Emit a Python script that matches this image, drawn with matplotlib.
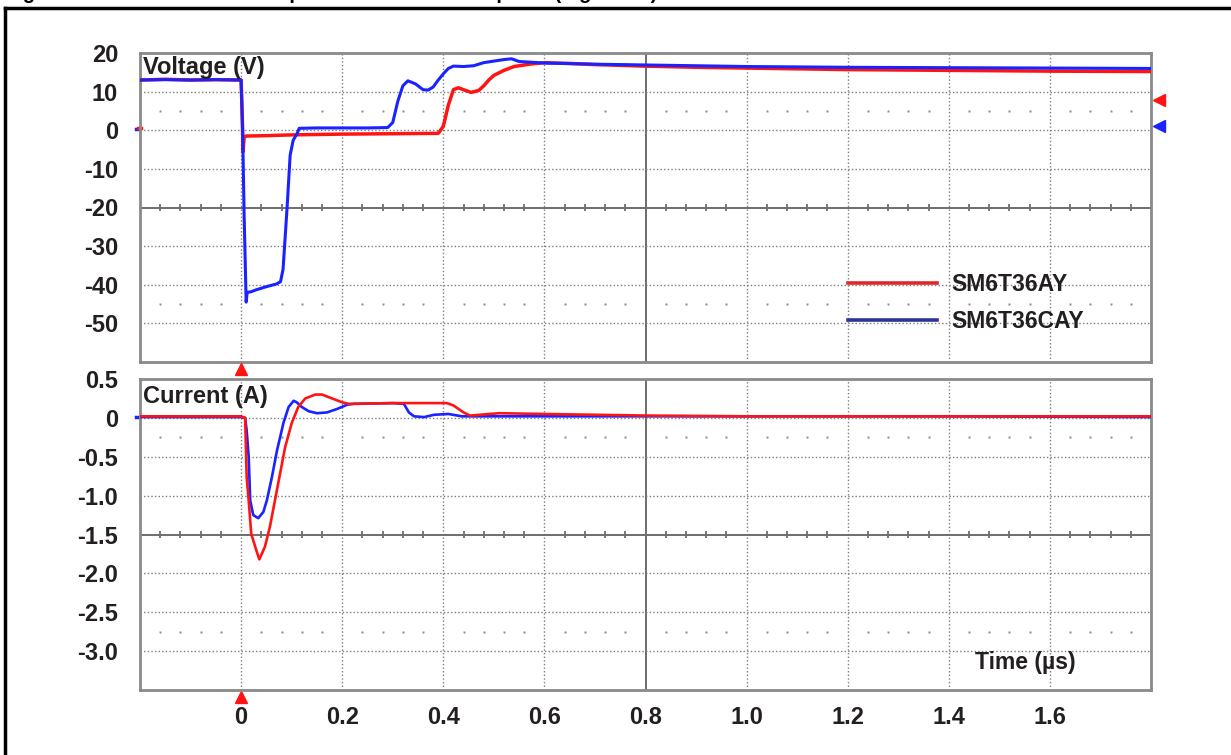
import matplotlib
matplotlib.use("Agg")
import matplotlib.pyplot as plt
from matplotlib.lines import Line2D
import numpy as np

plt.rcParams['font.family'] = ['Liberation Sans', 'DejaVu Sans']
plt.rcParams['font.weight'] = 'bold'

# ---------------- data ----------------
series_names = ["SM6T36AY", "SM6T36CAY"]

v_red_t = [-0.2, -0.15, -0.1, -0.05, 0.0, 0.002, 0.004, 0.006, 0.01, 0.05, 0.1, 0.2, 0.3, 0.39,
           0.40, 0.41, 0.42, 0.43, 0.44, 0.455, 0.47, 0.48, 0.49, 0.50, 0.52, 0.54, 0.57, 0.6,
           0.65, 0.7, 0.8, 0.9, 1.0, 1.2, 1.4, 1.6, 1.8]
v_red = [13.0, 13.2, 13.0, 13.1, 13.0, 5.0, -5.5, -1.8, -1.5, -1.4, -1.2, -1.0, -0.9, -0.8,
         1.0, 6.5, 10.5, 11.0, 10.5, 9.8, 10.3, 11.5, 13.0, 14.2, 15.5, 16.5, 17.1, 17.5,
         17.3, 17.0, 16.6, 16.3, 16.1, 15.7, 15.5, 15.3, 15.2]

v_blue_t = [-0.2, -0.15, -0.1, -0.05, 0.0, 0.003, 0.006, 0.01, 0.012, 0.02, 0.03, 0.05, 0.07,
            0.078, 0.083, 0.087, 0.091, 0.097, 0.103, 0.111, 0.115, 0.15, 0.2, 0.25, 0.29,
            0.30, 0.31, 0.32, 0.33, 0.345, 0.36, 0.37, 0.38, 0.39, 0.40, 0.41, 0.42, 0.44,
            0.46, 0.48, 0.50, 0.52, 0.535, 0.55, 0.6, 0.7, 0.8, 1.0, 1.2, 1.4, 1.6, 1.8]
v_blue = [13.0, 13.1, 13.0, 13.1, 13.0, 0.0, -22.0, -44.5, -42.0, -41.8, -41.3, -40.5, -39.8,
          -39.2, -36.0, -28.0, -20.0, -6.5, -2.6, -0.8, 0.5, 0.6, 0.6, 0.6, 0.7,
          2.0, 7.5, 11.5, 12.8, 12.0, 10.5, 10.4, 11.2, 13.0, 14.6, 16.0, 16.6, 16.5,
          16.7, 17.5, 17.9, 18.3, 18.5, 17.8, 17.4, 17.1, 16.9, 16.5, 16.3, 16.2, 16.1, 16.0]

i_red_t = [-0.2, -0.1, 0.0, 0.008, 0.011, 0.015, 0.02, 0.03, 0.036, 0.047, 0.057, 0.067, 0.077,
           0.087, 0.1, 0.113, 0.127, 0.147, 0.16, 0.18, 0.2, 0.213, 0.3, 0.407, 0.42, 0.44,
           0.453, 0.51, 0.6, 0.8, 1.0, 1.4, 1.8]
i_red = [0.02, 0.02, 0.02, 0.0, -0.76, -1.06, -1.49, -1.7, -1.82, -1.66, -1.4, -1.06, -0.72,
         -0.38, -0.07, 0.14, 0.25, 0.3, 0.3, 0.25, 0.2, 0.18, 0.19, 0.19, 0.16, 0.07,
         0.03, 0.06, 0.05, 0.03, 0.02, 0.02, 0.02]

i_blue_t = [-0.2, -0.1, 0.0, 0.008, 0.011, 0.015, 0.018, 0.024, 0.034, 0.044, 0.051, 0.061,
            0.071, 0.084, 0.094, 0.104, 0.11, 0.12, 0.134, 0.15, 0.17, 0.19, 0.21, 0.222,
            0.3, 0.322, 0.332, 0.342, 0.362, 0.382, 0.41, 0.437, 0.6, 1.0, 1.4, 1.8]
i_blue = [0.01, 0.01, 0.01, 0.0, -0.16, -0.5, -1.06, -1.25, -1.29, -1.21, -1.06, -0.76,
          -0.42, -0.06, 0.14, 0.22, 0.2, 0.14, 0.085, 0.06, 0.07, 0.115, 0.17, 0.18,
          0.19, 0.18, 0.07, 0.02, 0.01, 0.04, 0.05, 0.02, 0.02, 0.02, 0.02, 0.01]

x_ticks = [0, 0.2, 0.4, 0.6, 0.8, 1.0, 1.2, 1.4, 1.6]
x_tick_labels = ["0", "0.2", "0.4", "0.6", "0.8", "1.0", "1.2", "1.4", "1.6"]
v_ticks = [20, 10, 0, -10, -20, -30, -40, -50]
v_tick_labels = ["20", "10", "0", "-10", "-20", "-30", "-40", "-50"]
i_ticks = [0.5, 0, -0.5, -1.0, -1.5, -2.0, -2.5, -3.0]
i_tick_labels = ["0.5", "0", "-0.5", "-1.0", "-1.5", "-2.0", "-2.5", "-3.0"]

RED = "#ff1414"
BLUE = "#1a22ff"
GRID = "#7d7d7d"
TXT = "#231f20"

W, H = 1231, 755
fig = plt.figure(figsize=(W / 100, H / 100), dpi=100)

axL = 140 / W
axW = 1011 / W
ax_v = fig.add_axes([axL, 1 - 362 / H, axW, 309 / H])
ax_i = fig.add_axes([axL, 1 - 690 / H, axW, 311 / H])

xmin, xmax = -0.2, 1.8
grid_x = np.round(np.arange(-0.2, 1.81, 0.2), 3)
minor_x = np.round(np.arange(-0.2, 1.8001, 0.04), 3)
minor_x = [m for m in minor_x if abs(m / 0.2 - round(m / 0.2)) > 1e-6]


def graticule(ax, ymin, ymax, step, center_y, dot_rows, tick_half):
    ax.set_xlim(xmin, xmax)
    ax.set_ylim(ymin, ymax)
    for gx in grid_x:
        if abs(gx - 0.8) < 1e-6:
            ax.axvline(gx, color="#6e6e6e", lw=1.4, zorder=1)
        elif xmin < gx < xmax:
            ax.axvline(gx, color=GRID, lw=1.0, ls=(0, (1, 1.6)), zorder=1)
    for gy in np.arange(ymin + step, ymax - step / 2, step):
        if abs(gy - center_y) < 1e-6:
            ax.axhline(gy, color="#6e6e6e", lw=1.4, zorder=1)
        else:
            ax.axhline(gy, color=GRID, lw=1.0, ls=(0, (1, 1.6)), zorder=1)
    ax.vlines(minor_x, center_y - tick_half, center_y + tick_half, color="#6e6e6e", lw=1.3, zorder=1)
    for r in dot_rows:
        ax.plot(minor_x, [r] * len(minor_x), ls="none", marker="s", ms=1.6,
                color="#8c8c8c", mec="none", zorder=1)
    for s in ax.spines.values():
        s.set_color("#8a8a8a")
        s.set_linewidth(2)
    ax.tick_params(length=0, labelsize=17, labelcolor=TXT)


graticule(ax_v, -60, 20, 10, -20, [5, -45], 1.0)
graticule(ax_i, -3.5, 0.5, 0.5, -1.5, [-0.25, -2.75], 0.05)

ax_v.set_xticks(x_ticks)
ax_v.set_xticklabels([])
ax_v.set_yticks(v_ticks)
ax_v.set_yticklabels(v_tick_labels, fontweight="bold")
ax_v.tick_params(axis="y", pad=15.8)

ax_i.set_xticks(x_ticks)
ax_i.set_xticklabels(x_tick_labels, fontweight="bold")
ax_i.set_yticks(i_ticks)
ax_i.set_yticklabels(i_tick_labels, fontweight="bold")
ax_i.tick_params(axis="y", pad=15.8)
ax_i.tick_params(axis="x", pad=11.5)

# traces
ax_v.plot(v_red_t, v_red, color=RED, lw=2.5, zorder=3)
ax_v.plot(v_blue_t, v_blue, color=BLUE, lw=2.2, zorder=4)
ax_i.plot(i_blue_t, i_blue, color=BLUE, lw=1.9, zorder=3)
ax_i.plot(i_red_t, i_red, color=RED, lw=1.9, zorder=4)

# channel / trigger markers
ax_v.plot([1.815], [7.9], marker="<", color=RED, ms=9, clip_on=False, ls="none")
ax_v.plot([1.815], [1.0], marker="<", color=BLUE, ms=9, clip_on=False, ls="none")
ax_i.plot([0], [0.63], marker="^", color=RED, ms=9, clip_on=False, ls="none")
ax_i.plot([0], [-3.59], marker="^", color=RED, ms=9, clip_on=False, ls="none")
ax_v.plot([-0.208, -0.203], [0.2, 0.2], color=BLUE, lw=2.5, clip_on=False)
ax_v.plot([-0.203, -0.199], [0.5, 0.5], color=RED, lw=2.5, clip_on=False)
ax_i.plot([-0.207, -0.203], [0.01, 0.01], color=BLUE, lw=2.5, clip_on=False)

# labels inside axes
ax_v.text(0.003, 0.952, "Voltage (V)", transform=ax_v.transAxes, fontsize=17,
          fontweight="bold", color=TXT, ha="left", va="center", zorder=6)
ax_i.text(0.003, 0.945, "Current (A)", transform=ax_i.transAxes, fontsize=17,
          fontweight="bold", color=TXT, ha="left", va="center", zorder=6)
ax_i.text(0.826, 0.087, "Time (µs)", transform=ax_i.transAxes, fontsize=16.5,
          fontweight="bold", color=TXT, ha="left", va="center", zorder=6)

# legend
handles = [Line2D([], [], color="#e3262b", lw=2.6), Line2D([], [], color="#2b3694", lw=2.6)]
leg = ax_v.legend(handles, series_names, loc="center left", bbox_to_anchor=(0.7003, 0.19),
                  frameon=False, fontsize=16.5, handlelength=3.9, handletextpad=0.62,
                  labelspacing=0.62, borderpad=0, borderaxespad=0)
for t in leg.get_texts():
    t.set_fontweight("bold")
    t.set_color(TXT)

# page frame and (cut-off) figure title
fig.add_artist(Line2D([5 / W, 1], [1 - 8 / H, 1 - 8 / H], color="black", lw=2.5,
                      transform=fig.transFigure))
fig.add_artist(Line2D([5 / W, 5 / W], [0, 1 - 8 / H], color="black", lw=2.5,
                      transform=fig.transFigure))
fig.text(5 / W, 1 + 1 / H, "Figure 11. Transient diode response to an ESD test pulse (Figure 10)",
         fontsize=14.5, fontweight="bold", color="black", ha="left", va="baseline")

fig.savefig("out.png", dpi=100)
